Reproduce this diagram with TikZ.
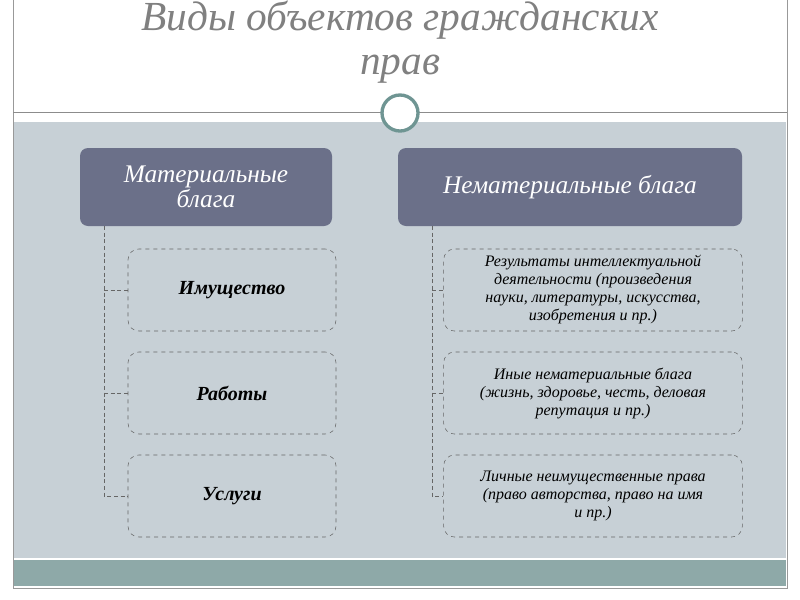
\documentclass[tikz,border=0pt]{standalone}
\usepackage{fontspec}
\setmainfont{Liberation Serif}
\usetikzlibrary{positioning}
\definecolor{slate}{HTML}{6B7089}
\definecolor{panel}{HTML}{C7D0D6}
\definecolor{teal}{HTML}{8EA9A8}
\definecolor{ringc}{HTML}{6F9593}
\tikzset{
  header/.style={fill=slate, rounded corners=6pt, text=white, font=\itshape\fontsize{19}{19}\selectfont, align=center, minimum height=58.5pt},
  item/.style={draw=black!60, dashed, rounded corners=8pt, fill=panel, align=center, minimum height=61.5pt},
  link/.style={draw=black!60, densely dashed, thin}
}
\begin{document}
\begin{tikzpicture}[x=0.75pt, y=-0.75pt]
    \useasboundingbox (0,0) rectangle (800,600);
    \fill[white] (0,0) rectangle (800,600);
    \draw[black!40] (13,0) -- (13,588) -- (787,588) -- (787,0);
    \draw[black!45] (13,112) -- (787,112);
    \fill[panel] (14,122) rectangle (786,558);
    \fill[teal] (14,560) rectangle (786,586);
    \node[circle, draw=ringc, line width=2.5pt, fill=white, minimum size=27pt] (ring) at (400,113) {};
    \node[text=black!50, align=center, font=\itshape\fontsize{31}{33}\selectfont] (title) at (400,42) {Виды объектов гражданских\\прав};

    \node[header, minimum width=189pt] (mat) at (206,187) {Материальные\\блага};
    \node[header, minimum width=258pt] (nemat) at (570,187) {Нематериальные блага};

    \begin{scope}[every node/.style={item, minimum width=156pt, font=\itshape\bfseries\fontsize{15}{17}\selectfont}]
    \node (imu) at (232,290) {Имущество};
    \node (rab) at (232,393) {Работы};
    \node (usl) at (232,496) {Услуги};
    \end{scope}
    \begin{scope}[every node/.style={item, minimum width=224pt, font=\itshape\fontsize{12}{13.5}\selectfont}]
    \node (res) at (593,290) {Результаты интеллектуальной\\деятельности (произведения\\науки, литературы, искусства,\\изобретения и пр.)};
    \node (ina) at (593,393) {Иные нематериальные блага\\(жизнь, здоровье, честь, деловая\\репутация и пр.)};
    \node (lic) at (593,496) {Личные неимущественные права\\(право авторства, право на имя\\и пр.)};
    \end{scope}

    \coordinate (lt) at (104,226);
    \coordinate (rt) at (432,226);
    \draw[link] (lt) |- (usl.west);
    \draw[link] (lt |- imu.west) -- (imu.west);
    \draw[link] (lt |- rab.west) -- (rab.west);
    \draw[link] (rt) |- (lic.west);
    \draw[link] (rt |- res.west) -- (res.west);
    \draw[link] (rt |- ina.west) -- (ina.west);
\end{tikzpicture}
\end{document}
